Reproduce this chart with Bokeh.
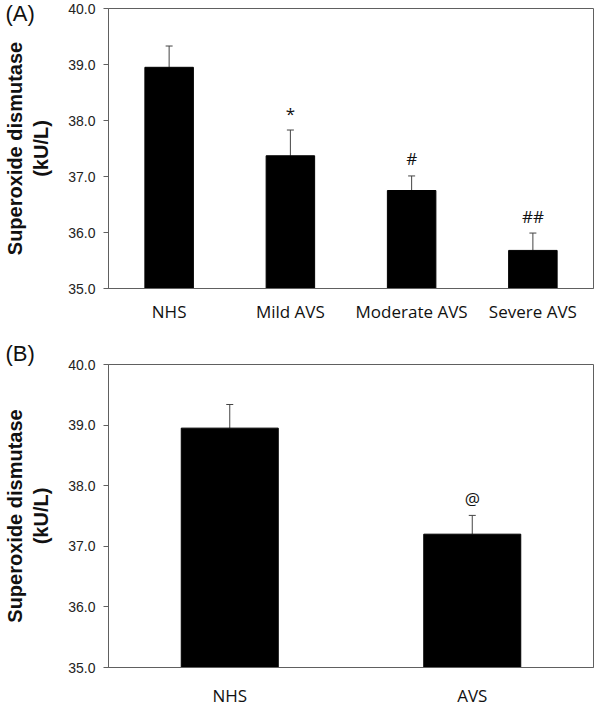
from bokeh.plotting import figure
from bokeh.models import (ColumnDataSource, FactorRange, Range1d, FixedTicker,
                          PrintfTickFormatter, Whisker, TeeHead, Title)
from bokeh.layouts import column
from bokeh.core.properties import value
from bokeh.embed import file_html
from bokeh.resources import INLINE

# ---- data ----
cats_a = ["NHS", "Mild AVS", "Moderate AVS", "Severe AVS"]
vals_a = [38.95, 37.37, 36.75, 35.68]
errs_a = [0.38, 0.46, 0.26, 0.31]
marks_a = ["", "*", "#", "##"]

cats_b = ["NHS", "AVS"]
vals_b = [38.95, 37.20]
errs_b = [0.39, 0.31]
marks_b = ["", "@"]

y_ticks = [35.0, 36.0, 37.0, 38.0, 39.0, 40.0]
y_min, y_max = 35.0, 40.0
y_label = "Superoxide dismutase\n(kU/L)"

AXIS_COL = "#606060"
ERR_COL = "#444444"
TXT = "#111111"
BORDER_LEFT = 105


def make_panel(cats, vals, errs, marks, panel_text, width, height,
               b_top, b_bottom, b_right, label_standoff, title_standoff):
    p = figure(x_range=FactorRange(*cats), y_range=Range1d(y_min, y_max),
               width=width, height=height, output_backend="svg",
               toolbar_location=None, min_border_left=BORDER_LEFT,
               min_border_right=b_right, min_border_top=b_top,
               min_border_bottom=b_bottom)
    src = ColumnDataSource(dict(
        x=cats, top=vals,
        upper=[v + e for v, e in zip(vals, errs)],
        lower=vals, mark=marks))
    p.vbar(x="x", top="top", bottom=y_min, width=0.4, source=src,
           fill_color="black", line_color="black")
    w = Whisker(base="x", upper="upper", lower="lower", source=src,
                line_color=ERR_COL, line_width=1,
                upper_head=TeeHead(size=7, line_color=ERR_COL, line_width=1),
                lower_head=None)
    p.add_layout(w)
    p.text(x="x", y="upper", text="mark", source=src, text_align="center",
           text_baseline="middle", y_offset=-17,
           text_font=value("Open Sans"), text_font_size="17px",
           text_color=TXT)

    p.xgrid.grid_line_color = None
    p.ygrid.grid_line_color = None
    p.outline_line_color = AXIS_COL
    p.outline_line_width = 1
    p.outline_line_alpha = 1

    p.yaxis.ticker = FixedTicker(ticks=y_ticks)
    p.yaxis.formatter = PrintfTickFormatter(format="%.1f")
    p.yaxis.major_tick_in = 0
    p.yaxis.major_tick_out = 5
    p.yaxis.minor_tick_line_color = None
    p.yaxis.major_label_standoff = 8
    p.yaxis.major_label_text_font = "Liberation Sans"
    p.yaxis.major_label_text_font_size = "14px"
    p.yaxis.major_label_text_color = "#222222"
    p.yaxis.axis_line_color = AXIS_COL
    p.yaxis.major_tick_line_color = AXIS_COL
    p.yaxis.axis_label = y_label
    p.yaxis.axis_label_standoff = 13
    p.yaxis.axis_label_text_font = "Liberation Sans"
    p.yaxis.axis_label_text_font_style = "bold"
    p.yaxis.axis_label_text_font_size = "20px"
    p.yaxis.axis_label_text_color = TXT

    p.xaxis.major_tick_line_color = None
    p.xaxis.minor_tick_line_color = None
    p.xaxis.axis_line_color = AXIS_COL
    p.xaxis.major_label_standoff = label_standoff
    p.xaxis.major_label_text_font = "Open Sans"
    p.xaxis.major_label_text_font_size = "17px"
    p.xaxis.major_label_text_color = TXT

    p.add_layout(Title(text=panel_text, align="left", offset=-103,
                       standoff=title_standoff, text_font="Liberation Sans",
                       text_font_size="22px", text_font_style="normal",
                       text_color=TXT), "above")
    return p


pA = make_panel(cats_a, vals_a, errs_a, marks_a, "(A)", width=600, height=340,
                b_top=8, b_bottom=52, b_right=7, label_standoff=5,
                title_standoff=-34)
pB = make_panel(cats_b, vals_b, errs_b, marks_b, "(B)", width=600, height=370,
                b_top=23, b_bottom=43, b_right=1, label_standoff=10,
                title_standoff=-3)

layout = column(pA, pB, spacing=0)
open("out.html", "w").write(file_html(layout, INLINE))
